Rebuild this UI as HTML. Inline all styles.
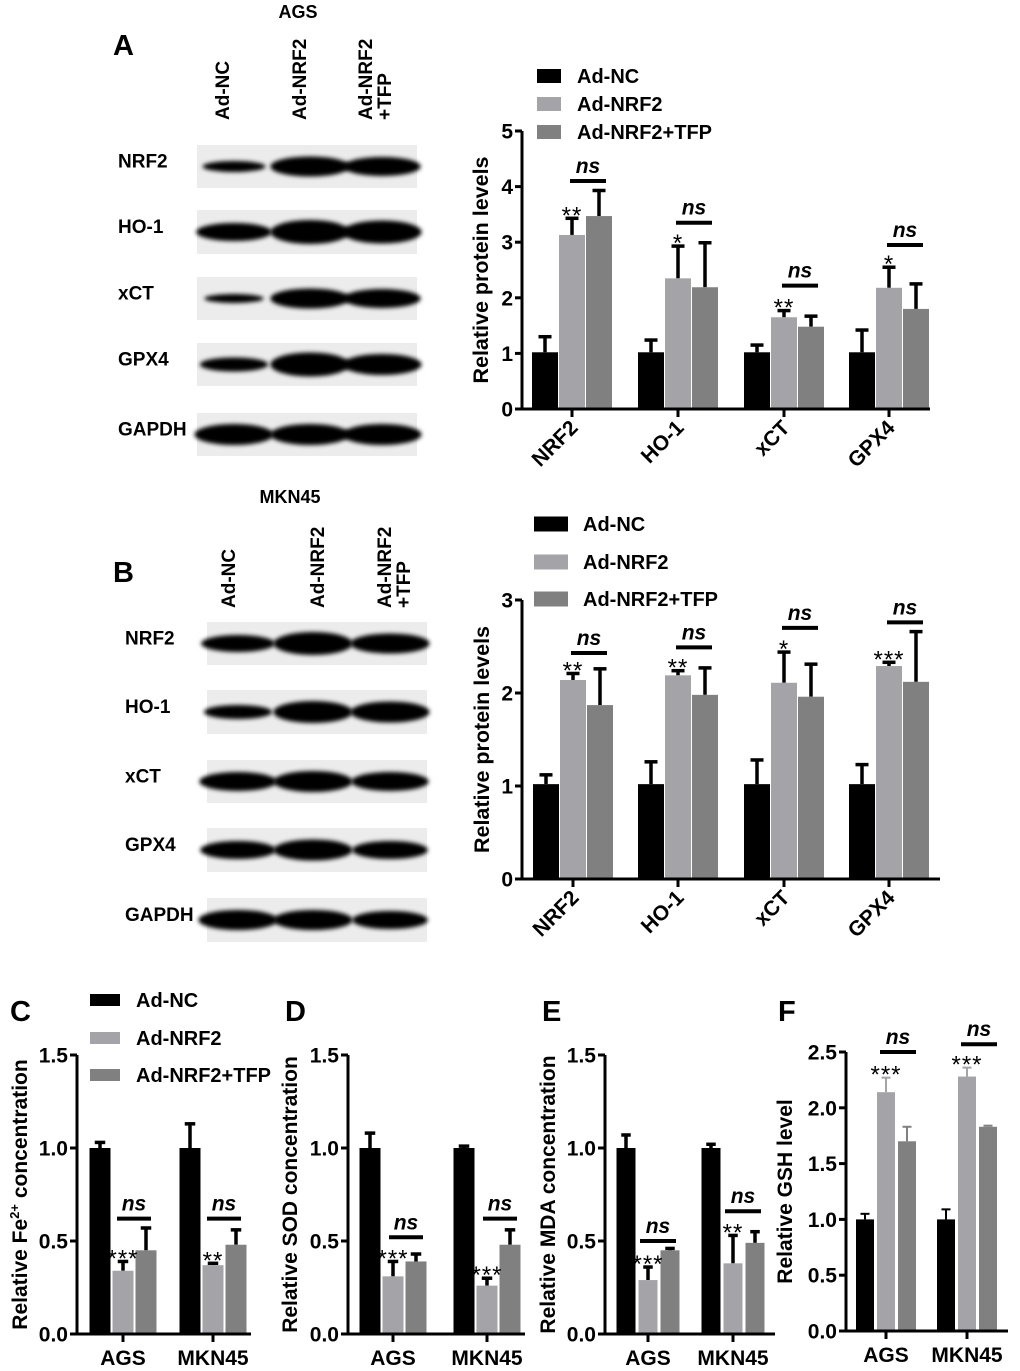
<!DOCTYPE html>
<html><head><meta charset="utf-8"><style>
body{margin:0;background:#fff}
svg{display:block;font-family:"Liberation Sans",Arial,sans-serif;font-weight:bold}
</style></head><body>
<svg id="fig" width="1020" height="1371" viewBox="0 0 1020 1371" xmlns="http://www.w3.org/2000/svg">
<defs><filter id="blur" x="-20%" y="-50%" width="140%" height="200%"><feGaussianBlur stdDeviation="2.2"/></filter></defs>
</svg>
<script>
// ---------- DATA ----------
const genes = ["NRF2","HO-1","xCT","GPX4"];
const cells = ["AGS","MKN45"];
const seriesNames = ["Ad-NC","Ad-NRF2","Ad-NRF2+TFP"];
const colors = ["#000000","#a4a4a8","#808080"];
// Panel A
const aNC=[1.02,1.02,1.02,1.02], aNCe=[0.28,0.22,0.13,0.40];
const aNR=[3.13,2.35,1.65,2.18], aNRe=[0.30,0.58,0.12,0.37];
const aTF=[3.47,2.19,1.48,1.80], aTFe=[0.46,0.80,0.19,0.45];
const aStars=["**","*","**","*"], aNs=[4.10,3.35,2.22,2.95];
const aTicks=[0,1,2,3,4,5];
// Panel B
const bNC=[1.02,1.02,1.02,1.02], bNCe=[0.10,0.24,0.26,0.21];
const bNR=[2.14,2.19,2.11,2.29], bNRe=[0.07,0.05,0.33,0.04];
const bTF=[1.87,1.98,1.96,2.12], bTFe=[0.39,0.29,0.35,0.54];
const bStars=["**","**","*","***"], bNs=[2.43,2.49,2.70,2.76];
const bTicks=[0,1,2,3];
// Panel C
const cNC=[1.0,1.0], cNCe=[0.03,0.13];
const cNR=[0.34,0.37], cNRe=[0.05,0.01];
const cTF=[0.45,0.48], cTFe=[0.12,0.08];
const cStars=["***","**"], cNs=[0.62,0.62];
// Panel D
const dNC=[1.0,1.0], dNCe=[0.08,0.01];
const dNR=[0.31,0.26], dNRe=[0.08,0.04];
const dTF=[0.39,0.48], dTFe=[0.04,0.08];
const dStars=["***","***"], dNs=[0.52,0.62];
// Panel E
const eNC=[1.0,1.0], eNCe=[0.07,0.02];
const eNR=[0.29,0.38], eNRe=[0.07,0.15];
const eTF=[0.45,0.49], eTFe=[0.01,0.06];
const eStars=["***","**"], eNs=[0.50,0.66];
// Panel F
const fNC=[1.0,1.0], fNCe=[0.05,0.09];
const fNR=[2.14,2.28], fNRe=[0.13,0.08];
const fTF=[1.70,1.83], fTFe=[0.13,0.01];
const fStars=["***","***"], fNs=[2.50,2.57];
const smallTicks=[0,0.5,1.0,1.5], fTicks=[0,0.5,1.0,1.5,2.0,2.5];

// ---------- HELPERS ----------
const svg=document.getElementById('fig');
const NS="http://www.w3.org/2000/svg";
function mk(tag,at,parent){const e=document.createElementNS(NS,tag);for(const k in at)e.setAttribute(k,at[k]);(parent||svg).appendChild(e);return e;}
function txt(s,at,parent){const e=mk('text',at,parent);e.textContent=s;return e;}

function chart(cfg){
  const g=mk('g',{});
  
  
  const max=cfg.ticks[cfg.ticks.length-1];
  const y=v=>cfg.y0-v*(cfg.y0-cfg.ytop)/max;
  const ax=mk('path',{d:`M${cfg.x0} ${cfg.ytop}V${cfg.y0}H${cfg.xend}`,stroke:'#000','stroke-width':3,fill:'none'},g);
  
  
  cfg.ticks.forEach(t=>{
    mk('line',{x1:cfg.x0-7,x2:cfg.x0,y1:y(t),y2:y(t),stroke:'#000','stroke-width':3},g);
    const tl=txt(cfg.fmt?t.toFixed(1):String(t),{x:cfg.x0-9,y:y(t)+7.5,'text-anchor':'end','font-size':21},g);
    
    
  });
  const cy=(cfg.y0+cfg.ytop)/2+(cfg.ytoff||0);
  const yt=txt(cfg.ytitle,{x:cfg.ytx,y:cy,'text-anchor':'middle','font-size':cfg.yfs||21.5,transform:`rotate(-90 ${cfg.ytx} ${cy})`},g);
  
  
  if(cfg.ysup){yt.textContent='';const a=mk('tspan',{},yt);a.textContent='Relative Fe';const b=mk('tspan',{dy:-8,'font-size':13},yt);b.textContent='2+';const c=mk('tspan',{dy:8},yt);c.textContent=' concentration';}
  const series=[[cfg.nc,cfg.nce],[cfg.nr,cfg.nre],[cfg.tf,cfg.tfe]];
  cfg.cats.forEach((cat,i)=>{
    const c=cfg.xs[i];
    mk('line',{x1:c,x2:c,y1:cfg.y0,y2:cfg.y0+8,stroke:'#000','stroke-width':3},g);
    series.forEach((s,j)=>{
      const cx=c+(j-1)*cfg.off, v=s[0][i], e=s[1][i];
      const ec=cfg.thinErr?colors[j]:'#000', ew=cfg.thinErr?2:3.5;
      const el=mk('line',{x1:cx,x2:cx,y1:y(v),y2:y(v+e),stroke:ec,'stroke-width':ew},g);
      
      
      mk('line',{x1:cx-cfg.bw*0.25,x2:cx+cfg.bw*0.25,y1:y(v+e),y2:y(v+e),stroke:ec,'stroke-width':ew},g);
      const r=mk('rect',{x:cx-cfg.bw/2,y:y(v),width:cfg.bw,height:cfg.y0-1.5-y(v),fill:colors[j]},g);
      
      
    });
    const st=txt(cfg.stars[i],{x:c,y:y(cfg.nr[i]+cfg.nre[i])+5,'text-anchor':'middle','font-size':24,'font-weight':'normal','letter-spacing':'1'},g);
    
    
    const ny=y(cfg.ns[i]);
    const nl=mk('line',{x1:c+cfg.nsL,x2:c+cfg.nsR,y1:ny,y2:ny,stroke:'#000','stroke-width':4},g);
    
    
    const nt=txt('ns',{x:c+(cfg.nsL+cfg.nsR)/2,y:ny-8,'text-anchor':'middle','font-size':21,'font-style':'italic'},g);
    
    
    let xl;
    if(cfg.rot){xl=txt(cat,{x:c+7,y:cfg.y0+20,'text-anchor':'end','font-size':21,transform:`rotate(-45 ${c+7} ${cfg.y0+20})`},g);}
    else xl=txt(cat,{x:c,y:cfg.y0+31,'text-anchor':'middle','font-size':21},g);
    
    
  });
}
function legend(x,tx,ys,sw,sh,name){
  const g=mk('g',{});
  
  
  seriesNames.forEach((n,j)=>{
    mk('rect',{x:x,y:ys[j]-sh/2,width:sw,height:sh,fill:colors[j]},g);
    const t=txt(n,{x:tx,y:ys[j]+7,'font-size':20},g);
    
    
  });
}
function blot(cfg){
  const g=mk('g',{});
  
  
  const tt=txt(cfg.title,{x:cfg.tx,y:cfg.ty,'text-anchor':'middle','font-size':18},g);
  
  
  const pl=txt(cfg.letter,{x:cfg.lx,y:cfg.ly,'font-size':29},g);
  
  
  cfg.lanes.forEach((lb,i)=>{
    const lx=cfg.laneLabelX[i];
    lb.forEach((s,k)=>{
      const t=txt(s,{x:lx+k*19,y:cfg.laneY,'font-size':19,transform:`rotate(-90 ${lx+k*19} ${cfg.laneY})`},g);
      
      
    });
  });
  cfg.rows.forEach((r)=>{
    const [label,yt,yb,w]=r;
    const l=txt(label,{x:cfg.rlx,y:(yt+yb)/2+1,'font-size':19},g);
    
    
    const s=mk('rect',{x:cfg.x1,y:yt,width:cfg.x2-cfg.x1,height:yb-yt,fill:'#ececec'},g);
    
    
    cfg.laneX.forEach((lx,i)=>{
      const sc=w[i];
      mk('ellipse',{cx:lx,cy:(yt+yb)/2,rx:36*Math.min(1.1,0.6+sc*0.5),ry:Math.max(3,10*sc),fill:'#050505',filter:'url(#blur)'},g);
    });
  });
}

// ---------- BLOTS ----------
blot({name:'blot-ags',title:'AGS',tx:298,ty:18,letter:'A',lx:113,ly:55,
  laneLabelX:[229,306,372],laneY:120,lanes:[['Ad-NC'],['Ad-NRF2'],['Ad-NRF2','+TFP']],
  rlx:118,x1:197,x2:417,laneX:[234,310,382],
  rows:[['NRF2',145,188,[0.55,1,0.95]],['HO-1',210,254,[0.9,1.2,1.15]],['xCT',277,320,[0.45,1,0.95]],['GPX4',343,386,[0.7,1.2,1.05]],['GAPDH',413,456,[1.05,1.05,1.05]]]});
blot({name:'blot-mkn45',title:'MKN45',tx:290,ty:503,letter:'B',lx:113,ly:582,
  laneLabelX:[235,324,391],laneY:608,lanes:[['Ad-NC'],['Ad-NRF2'],['Ad-NRF2','+TFP']],
  rlx:125,x1:207,x2:427,laneX:[238,313,390],
  rows:[['NRF2',622,665,[0.85,1.15,1.0]],['HO-1',690,734,[0.7,1.1,1.05]],['xCT',760,803,[0.95,1.05,0.95]],['GPX4',828,872,[0.9,1.05,0.9]],['GAPDH',898,942,[1.0,1.0,0.9]]]});

// ---------- CHARTS ----------
legend(537,577,[76,104,132],24,14,'legend-a');
chart({name:'chart-a',x0:522,xend:930,y0:409,ytop:131,ticks:aTicks,xs:[572,678,784,889],off:27,bw:26,
  nc:aNC,nce:aNCe,nr:aNR,nre:aNRe,tf:aTF,tfe:aTFe,stars:aStars,ns:aNs,nsL:-2,nsR:34,cats:genes,rot:true,
  ytitle:'Relative protein levels',ytx:488});
legend(534,583,[524,562,599],34,15,'legend-b');
chart({name:'chart-b',x0:522,xend:940,y0:879,ytop:600,ticks:bTicks,xs:[573,678,784,889],off:27,bw:26,
  nc:bNC,nce:bNCe,nr:bNR,nre:bNRe,tf:bTF,tfe:bTFe,stars:bStars,ns:bNs,nsL:-2,nsR:34,cats:genes,rot:true,
  ytitle:'Relative protein levels',ytx:489});
legend(90,136,[1000,1038,1075],30,12,'legend-c');
[['C',10],['D',285],['E',542],['F',778]].forEach(([L,x])=>{const t=txt(L,{x:x,y:1021,'font-size':29});
  
  });
chart({name:'chart-c',x0:77,xend:251,y0:1334,ytop:1055,ticks:smallTicks,fmt:true,xs:[123,213],off:23,bw:21,
  nc:cNC,nce:cNCe,nr:cNR,nre:cNRe,tf:cTF,tfe:cTFe,stars:cStars,ns:cNs,nsL:-6,nsR:28,cats:cells,
  ytitle:'Relative Fe2+ concentration',ysup:true,ytx:27,yfs:21});
chart({name:'chart-d',x0:348,xend:525,y0:1334,ytop:1055,ticks:smallTicks,fmt:true,xs:[393,487],off:23,bw:21,
  nc:dNC,nce:dNCe,nr:dNR,nre:dNRe,tf:dTF,tfe:dTFe,stars:dStars,ns:dNs,nsL:-4,nsR:30,cats:cells,
  ytitle:'Relative SOD concentration',ytx:297,yfs:21});
chart({name:'chart-e',x0:605,xend:775,y0:1334,ytop:1055,ticks:smallTicks,fmt:true,xs:[648,733],off:22,bw:19,
  nc:eNC,nce:eNCe,nr:eNR,nre:eNRe,tf:eTF,tfe:eTFe,stars:eStars,ns:eNs,nsL:-8,nsR:28,cats:cells,
  ytitle:'Relative MDA concentration',ytx:555,yfs:21});
chart({name:'chart-f',x0:846,xend:1008,y0:1331,ytop:1052,ticks:fTicks,fmt:true,xs:[886,967],off:21,bw:18,thinErr:true,
  nc:fNC,nce:fNCe,nr:fNR,nre:fNRe,tf:fTF,tfe:fTFe,stars:fStars,ns:fNs,nsL:-6,nsR:30,cats:cells,
  ytitle:'Relative GSH level',ytx:792,yfs:21});
</script>
</body></html>
